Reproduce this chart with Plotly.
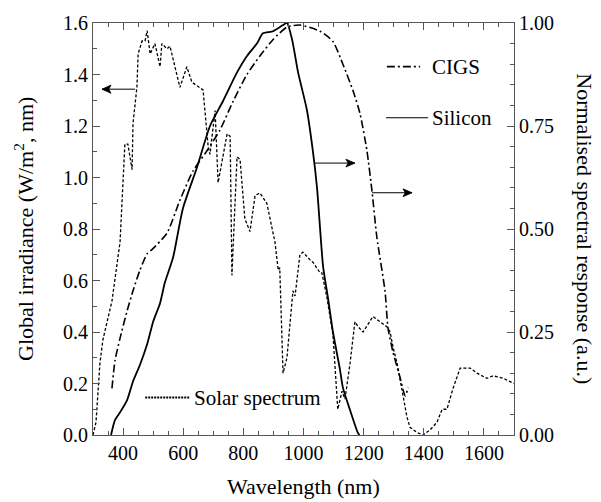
import plotly.graph_objects as go

# Solar spectrum (global irradiance, W/m2 nm) -- left axis
solar_wl = [300, 310, 323, 330, 333, 363, 380, 390, 406, 416, 430, 433, 446, 450, 463, 473, 480,
            490, 506, 523, 529, 546, 556, 589, 612, 629, 666, 683, 689, 706, 716, 746, 756, 762,
            779, 789, 805, 822, 839, 855, 878, 905, 916, 921, 932, 945, 965, 972, 988, 998, 1022,
            1032, 1055, 1061, 1077, 1098, 1114, 1128, 1138, 1155, 1171, 1182, 1198, 1231, 1254,
            1278, 1288, 1298, 1311, 1321, 1331, 1344, 1354, 1377, 1397, 1421, 1444, 1461, 1477,
            1497, 1521, 1554, 1577, 1610, 1630, 1664, 1700]
solar_irr = [0.0, 0.05, 0.28, 0.35, 0.37, 0.52, 0.66, 0.75, 1.13, 1.13, 1.03, 1.21, 1.35, 1.48,
             1.53, 1.53, 1.57, 1.48, 1.52, 1.43, 1.52, 1.50, 1.51, 1.35, 1.43, 1.37, 1.34, 1.12,
             1.09, 1.26, 0.98, 1.17, 1.16, 0.62, 1.08, 1.07, 0.84, 0.79, 0.93, 0.94, 0.90, 0.75,
             0.64, 0.65, 0.24, 0.30, 0.56, 0.54, 0.70, 0.71, 0.68, 0.67, 0.63, 0.63, 0.54, 0.39,
             0.10, 0.17, 0.14, 0.28, 0.44, 0.42, 0.40, 0.46, 0.44, 0.42, 0.40, 0.34, 0.28, 0.22,
             0.16, 0.07, 0.03, 0.01, 0.0, 0.02, 0.05, 0.10, 0.10, 0.18, 0.26, 0.26, 0.24, 0.22,
             0.23, 0.22, 0.20]

# CIGS normalised spectral response -- right axis
cigs_wl = [363, 373, 390, 413, 433, 456, 480, 496, 546, 589, 632, 679, 722, 766, 812, 855, 899,
           945, 988, 1055, 1098, 1131, 1165, 1188, 1211, 1228, 1244, 1271, 1281, 1298, 1321,
           1338, 1348]
cigs_resp = [0.113, 0.18, 0.235, 0.30, 0.35, 0.40, 0.44, 0.45, 0.49, 0.57, 0.64, 0.69, 0.74,
             0.81, 0.875, 0.92, 0.96, 0.99, 0.995, 0.98, 0.955, 0.90, 0.835, 0.78, 0.69, 0.59,
             0.48, 0.35, 0.26, 0.20, 0.14, 0.095, 0.115]

# Silicon normalised spectral response -- right axis
si_wl = [360, 373, 390, 413, 433, 456, 480, 500, 523, 539, 566, 599, 646, 689, 732, 779, 812,
         845, 865, 899, 932, 945, 962, 982, 1011, 1031, 1045, 1065, 1082, 1098, 1121, 1131,
         1155, 1181, 1186]
si_resp = [0.0, 0.036, 0.055, 0.084, 0.13, 0.17, 0.22, 0.275, 0.32, 0.37, 0.43, 0.55, 0.65,
           0.75, 0.81, 0.88, 0.92, 0.95, 0.975, 0.98, 0.995, 1.0, 0.96, 0.88, 0.79, 0.69, 0.60,
           0.41, 0.33, 0.25, 0.16, 0.115, 0.06, 0.005, 0.0]

x_ticks = [400, 600, 800, 1000, 1200, 1400, 1600]
y_ticks = [0.0, 0.2, 0.4, 0.6, 0.8, 1.0, 1.2, 1.4, 1.6]
y2_ticks = [0.0, 0.25, 0.5, 0.75, 1.0]

FONT = "Liberation Serif"
SOLAR_DASH = "3px,2px"
CIGS_DASH = "8px,3px,2px,3px"
AXC = "#555"

fig = go.Figure()
fig.add_trace(go.Scatter(x=solar_wl, y=solar_irr, mode="lines", name="Solar spectrum",
                         line=dict(color="black", width=1.3, dash=SOLAR_DASH), yaxis="y"))
fig.add_trace(go.Scatter(x=cigs_wl, y=cigs_resp, mode="lines", name="CIGS",
                         line=dict(color="black", width=1.6, dash=CIGS_DASH, shape="spline",
                                   smoothing=0.6), yaxis="y2"))
fig.add_trace(go.Scatter(x=si_wl, y=si_resp, mode="lines", name="Silicon",
                         line=dict(color="black", width=1.8, shape="spline", smoothing=0.6),
                         yaxis="y2"))

axis_common = dict(showgrid=False, zeroline=False, showline=True, linecolor=AXC,
                   linewidth=1, ticks="inside", tickcolor=AXC,
                   tickfont=dict(family=FONT, size=20, color="black"))

fig.update_layout(
    width=601, height=502,
    margin=dict(l=93, r=87, t=18, b=67),
    paper_bgcolor="white", plot_bgcolor="white",
    showlegend=False,
    font=dict(family=FONT, color="black"),
    xaxis=dict(range=[300, 1700], tickvals=x_ticks, ticklen=7, mirror="ticks",
               minor=dict(dtick=50, tick0=0, ticks="inside", ticklen=4, tickcolor=AXC),
               **axis_common),
    yaxis=dict(range=[0, 1.6], tickvals=y_ticks, tickformat=".1f", ticklen=7,
               minor=dict(dtick=0.1, tick0=0, ticks="inside", ticklen=4, tickcolor=AXC),
               **axis_common),
    yaxis2=dict(range=[0, 1.0], tickvals=y2_ticks, tickformat=".2f", ticklen=7,
                overlaying="y", side="right",
                minor=dict(dtick=0.05, tick0=0, ticks="inside", ticklen=4, tickcolor=AXC),
                **axis_common),
)

TITLE_FONT = dict(family=FONT, size=22, color="black")
fig.add_annotation(text="Wavelength (nm)", xref="paper", yref="paper", x=0.5, y=-0.125,
                   xanchor="center", yanchor="middle", showarrow=False, font=TITLE_FONT)
fig.add_annotation(text="Global irradiance (W/m<sup>2</sup>, nm)", xref="paper", yref="paper",
                   x=-0.164, y=0.5, textangle=-90, xanchor="center", yanchor="middle",
                   showarrow=False, font=TITLE_FONT)
fig.add_annotation(text="Normalised spectral response (a.u.)", xref="paper", yref="paper",
                   x=1.168, y=0.5, textangle=90, xanchor="center", yanchor="middle",
                   showarrow=False, font=TITLE_FONT)

# arrows pointing at the relevant axes: (head x, y, tail x, axis, head length nm, half height)
arrow_specs = [
    (330, 1.343, 440, "y", -30, 0.016),
    (1171, 0.66, 1038, "y2", 30, 0.0095),
    (1361, 0.588, 1228, "y2", 30, 0.0095),
]
for hx, hy, tx, yr, hl, hh in arrow_specs:
    fig.add_shape(type="line", xref="x", yref=yr, x0=tx, x1=hx, y0=hy, y1=hy,
                  line=dict(color="black", width=1))
    bx = hx - hl
    fig.add_shape(type="path", xref="x", yref=yr,
                  path=f"M {hx} {hy} L {bx} {hy + hh} L {bx + hl * 0.25} {hy} L {bx} {hy - hh} Z",
                  fillcolor="black", line=dict(color="black", width=0.8))

# in-plot legend
legend_items = [
    ("CIGS", 0.698, 0.777, 0.894, CIGS_DASH, 1.6, 0.800),
    ("Silicon", 0.696, 0.796, 0.770, "solid", 1.0, 0.800),
    ("Solar spectrum", 0.124, 0.230, 0.091, "2px,1px", 2.2, 0.235),
]
for label, x0, x1, yy, dash, w, tx in legend_items:
    fig.add_shape(type="line", xref="paper", yref="paper", x0=x0, x1=x1, y0=yy, y1=yy,
                  line=dict(color="black", width=w, dash=dash))
    fig.add_annotation(text=label, xref="paper", yref="paper", x=tx, y=yy, xanchor="left",
                       yanchor="middle", showarrow=False,
                       font=dict(family=FONT, size=21, color="black"))

fig.write_html("out.html")
